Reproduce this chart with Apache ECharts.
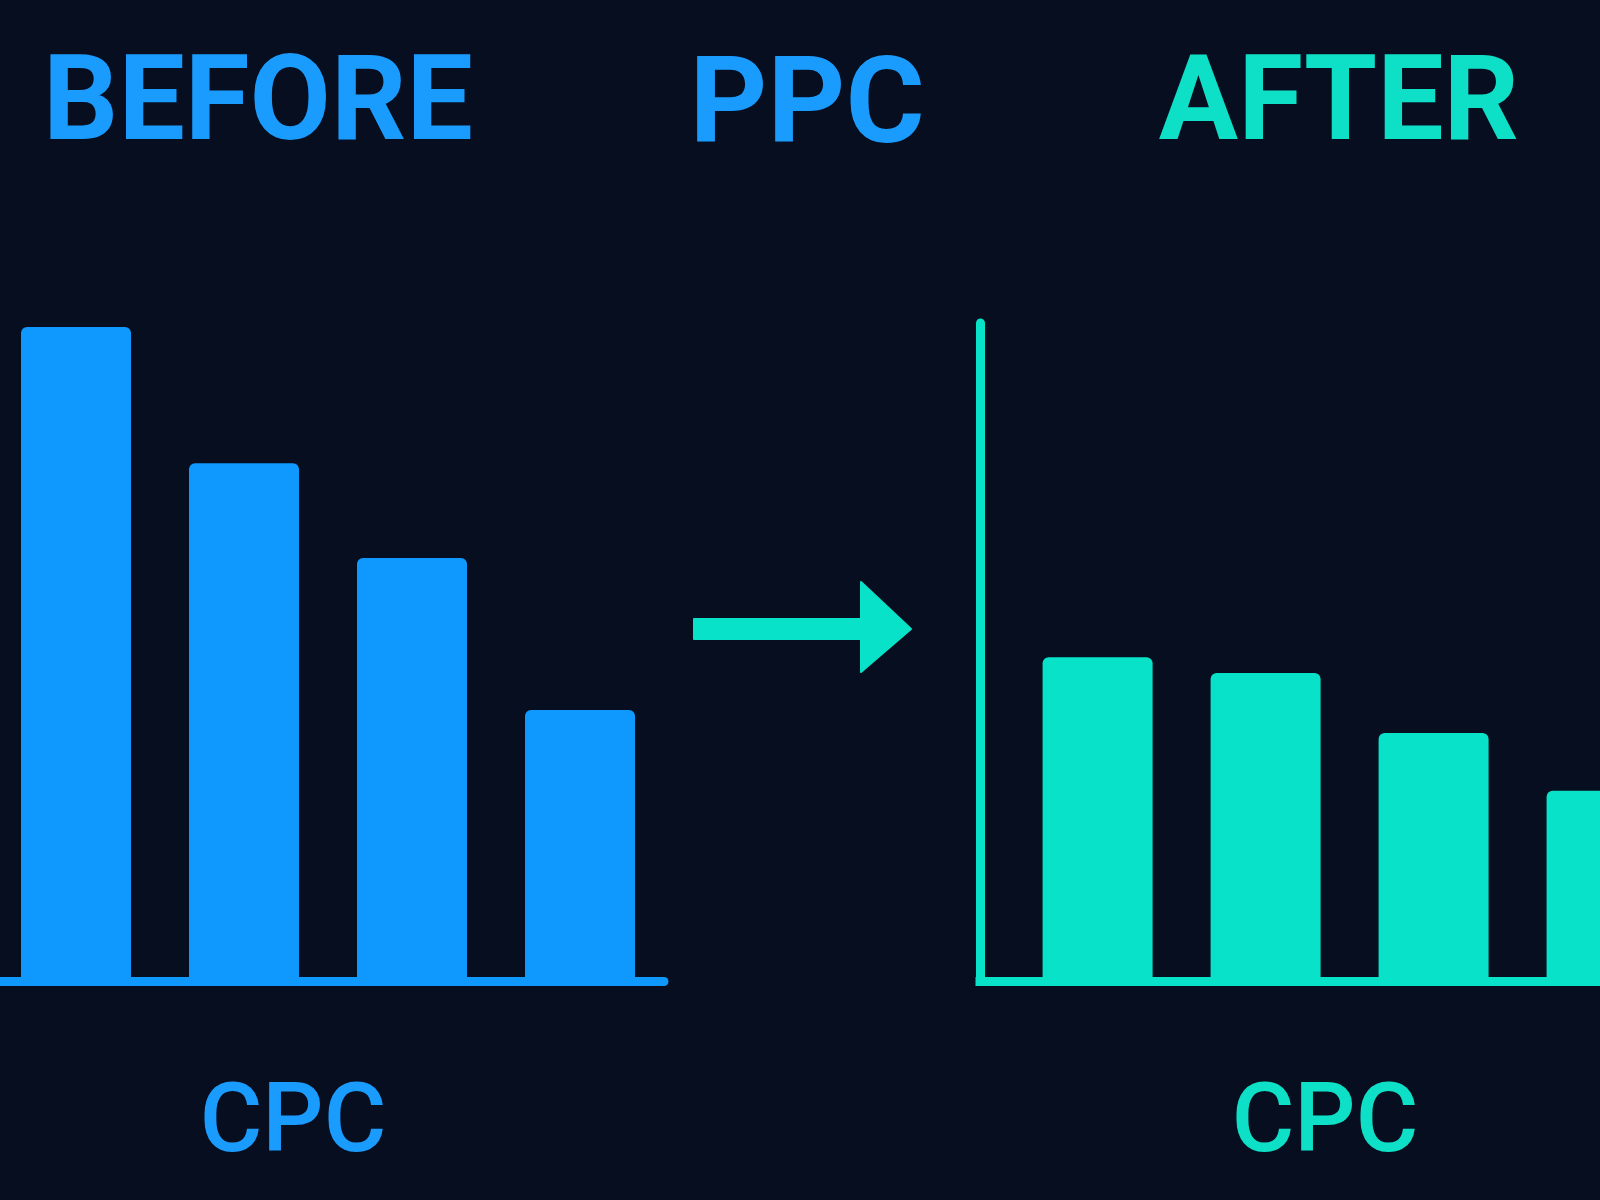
<!DOCTYPE html>
<html>
<head>
<meta charset="utf-8">
<script src="https://cdn.jsdelivr.net/npm/echarts@6/dist/echarts.min.js"></script>
<style>
html,body{margin:0;padding:0;background:#070e1f;}
#chart{width:1600px;height:1200px;}
</style>
</head>
<body>
<div id="chart"></div>
<script>
// ---- data ----
const categories = ['Bar 1', 'Bar 2', 'Bar 3', 'Bar 4'];
const beforeValues = [99.4, 78.7, 64.3, 41.2];
const afterValues = [49.2, 46.8, 37.7, 28.9];
const headerLabels = ['BEFORE', 'PPC', 'AFTER'];
const axisLabels = ['CPC', 'CPC'];

const BLUE = '#0f98fe';
const TEAL = '#08e2c8';
const BLUE_TEXT = '#1a9cff';
const TEAL_TEXT = '#0de0c6';

const chart = echarts.init(document.getElementById('chart'), null, {renderer: 'canvas'});

const hiddenAxisParts = {
  axisTick: {show: false},
  axisLabel: {show: false},
  splitLine: {show: false}
};

// categories are placed at positions 1..4 on a value axis
const toPoints = vals => vals.map((v, i) => ({name: categories[i], value: [i + 1, v]}));

const option = {
  backgroundColor: '#070e1f',
  animation: false,
  grid: [
    {left: 0, top: 323, width: 664, height: 658},
    {left: 980, top: 323, width: 620, height: 658}
  ],
  xAxis: [
    Object.assign({
      type: 'value', gridIndex: 0, min: 0.5476, max: 4.5,
      axisLine: {show: true, onZero: false, lineStyle: {color: BLUE, width: 9, cap: 'round'}}
    }, hiddenAxisParts),
    Object.assign({
      type: 'value', gridIndex: 1, min: 0.3, max: 3.9905,
      axisLine: {show: true, onZero: false, lineStyle: {color: TEAL, width: 9, cap: 'square'}}
    }, hiddenAxisParts)
  ],
  yAxis: [
    Object.assign({
      type: 'value', gridIndex: 0, min: 0, max: 100,
      axisLine: {show: false}
    }, hiddenAxisParts),
    Object.assign({
      type: 'value', gridIndex: 1, min: 0, max: 100,
      axisLine: {show: true, onZero: false, lineStyle: {color: TEAL, width: 9, cap: 'round'}}
    }, hiddenAxisParts)
  ],
  series: [
    {
      name: 'Before', type: 'bar', xAxisIndex: 0, yAxisIndex: 0,
      data: toPoints(beforeValues), barWidth: 110, clip: true,
      itemStyle: {color: BLUE, borderRadius: [6, 6, 0, 0]}
    },
    {
      name: 'After', type: 'bar', xAxisIndex: 1, yAxisIndex: 1,
      data: toPoints(afterValues), barWidth: 110, clip: true,
      itemStyle: {color: TEAL, borderRadius: [6, 6, 0, 0]}
    }
  ],
  graphic: [
    {type: 'text', x: 258, y: 109, style: {text: headerLabels[0], fill: BLUE_TEXT, font: 'bold 118px Roboto', align: 'center', verticalAlign: 'middle'}},
    {type: 'text', x: 807, y: 112, style: {text: headerLabels[1], fill: BLUE_TEXT, font: 'bold 121px Roboto', align: 'center', verticalAlign: 'middle'}},
    {type: 'text', x: 1339, y: 109, style: {text: headerLabels[2], fill: TEAL_TEXT, font: 'bold 118px Roboto', align: 'center', verticalAlign: 'middle'}},
    {type: 'text', x: 293, y: 1127, style: {text: axisLabels[0], fill: BLUE_TEXT, font: '500 96px Roboto', align: 'center', verticalAlign: 'middle'}},
    {type: 'text', x: 1325, y: 1127, style: {text: axisLabels[1], fill: TEAL_TEXT, font: '500 96px Roboto', align: 'center', verticalAlign: 'middle'}},
    {
      type: 'polygon',
      shape: {points: [[694, 619], [861, 619], [861, 582], [911, 629], [861, 672], [861, 639], [694, 639]]},
      style: {fill: TEAL, lineJoin: 'round', stroke: TEAL, lineWidth: 2}
    }
  ]
};

chart.setOption(option);
</script>
</body>
</html>
